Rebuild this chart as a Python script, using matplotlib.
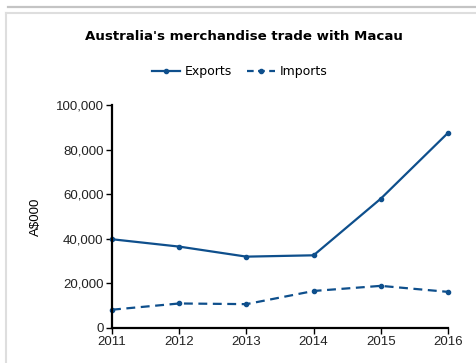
import matplotlib.pyplot as plt
from matplotlib.lines import Line2D
from matplotlib.ticker import FuncFormatter

years = [2011, 2012, 2013, 2014, 2015, 2016]
exports = [39800, 36500, 32000, 32600, 58000, 87500]
imports = [8200, 11000, 10700, 16600, 18900, 16200]

blue = '#0e4f8c'

fig = plt.figure(figsize=(4.77, 3.63), dpi=100)

# panel frame lines
fig.add_artist(Line2D([8 / 477, 1], [1 - 7 / 363] * 2, color='#c4c4c4', lw=1.6))
fig.add_artist(Line2D([6 / 477, 1], [1 - 13 / 363] * 2, color='#dedede', lw=1.5))
fig.add_artist(Line2D([6 / 477] * 2, [0, 1 - 13 / 363], color='#dedede', lw=1.5))

ax = fig.add_axes([112 / 477, 1 - 328 / 363, 336 / 477, 223 / 363])
ax.plot(years, exports, color=blue, lw=1.6, marker='o', ms=3, clip_on=False)
ax.plot(years, imports, color=blue, lw=1.6, marker='o', ms=3, clip_on=False,
        dashes=(4, 2.5))

ax.set_xlim(2011, 2016)
ax.set_ylim(0, 100000)
ax.set_xticks(years)
ax.set_yticks(range(0, 100001, 20000))
ax.yaxis.set_major_formatter(FuncFormatter(lambda v, p: f'{int(v):,}'))

for s in ['top', 'right']:
    ax.spines[s].set_visible(False)
for s in ['left', 'bottom']:
    ax.spines[s].set_linewidth(1.6)
    ax.spines[s].set_color('black')
ax.tick_params(axis='both', length=4, width=1, labelsize=9.5, pad=2)
for lbl in ax.get_xticklabels() + ax.get_yticklabels():
    lbl.set_fontfamily('Liberation Sans')
    lbl.set_color('#222222')

ax.set_ylabel('A$000', fontsize=9.5, family='Liberation Sans')
ax.yaxis.set_label_coords(-70 / 336, 0.5)

fig.text(244 / 477, 1 - 37 / 363, "Australia's merchandise trade with Macau",
         ha='center', va='center', fontsize=9.6, fontweight='bold')

handles = [Line2D([], [], color=blue, lw=1.6, marker='o', ms=3),
           Line2D([], [], color=blue, lw=1.6, marker='o', ms=3, dashes=(3, 2))]
fig.legend(handles, ['Exports', 'Imports'], loc='center',
           bbox_to_anchor=(240 / 477, 1 - 72 / 363), ncol=2, frameon=False,
           fontsize=9, handlelength=2.2, handletextpad=0.4, columnspacing=1.2)

fig.savefig('out.png', dpi=100)
